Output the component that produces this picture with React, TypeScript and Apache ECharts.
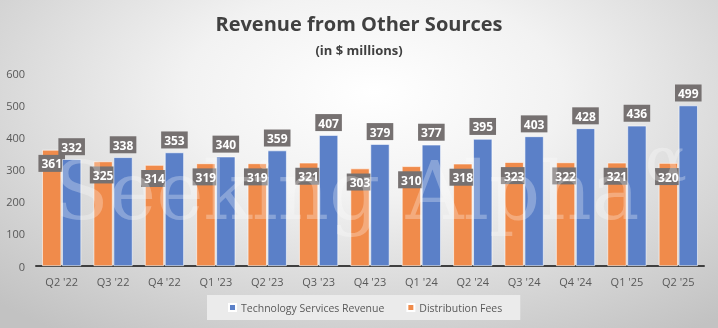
import React, { useEffect, useRef } from "react";
import * as echarts from "echarts";

const categories = ["Q2 '22", "Q3 '22", "Q4 '22", "Q1 '23", "Q2 '23", "Q3 '23", "Q4 '23", "Q1 '24", "Q2 '24", "Q3 '24", "Q4 '24", "Q1 '25", "Q2 '25"];
const distributionFees = [361, 325, 314, 319, 319, 321, 303, 310, 318, 323, 322, 321, 320];
const techServicesRevenue = [332, 338, 353, 340, 359, 407, 379, 377, 395, 403, 428, 436, 499];
const yTicks = [0, 100, 200, 300, 400, 500, 600];

export default function App() {
  const ref = useRef<HTMLDivElement>(null);
  useEffect(() => {
    document.body.style.margin = "0";
    const chart = echarts.init(ref.current!, null, { renderer: "svg" });
    const font = "'Open Sans', 'Noto Sans', sans-serif";
    const labelBox = {
      show: true,
      color: "#ffffff",
      fontFamily: font,
      fontWeight: "bold" as const,
      fontSize: 12,
      backgroundColor: "#767171",
      padding: [3, 3, 2, 3],
    };
    chart.setOption({
      animation: false,
      textStyle: { fontFamily: font },
      title: [
        {
          text: "Revenue from Other Sources",
          left: "center",
          top: 8,
          textStyle: { fontSize: 20, fontWeight: "bold", color: "#404040", fontFamily: font },
        },
        {
          text: "(in $ millions)",
          left: "center",
          top: 38,
          textStyle: { fontSize: 13, fontWeight: "bold", color: "#404040", fontFamily: font },
        },
      ],
      legend: {
        data: ["Technology Services Revenue", "Distribution Fees"],
        bottom: 8,
        left: 207,
        backgroundColor: "#ebebeb",
        padding: [7, 18, 7, 21],
        itemWidth: 7,
        itemHeight: 7,
        itemGap: 22,
        icon: "rect",
        textStyle: { fontSize: 10.5, color: "#595959", fontFamily: font },
      },
      grid: { left: 36, right: 14, top: 73, bottom: 62 },
      xAxis: {
        type: "category",
        data: categories,
        axisLine: { lineStyle: { color: "#404040", width: 2 } },
        axisTick: { show: false },
        axisLabel: { color: "#595959", fontSize: 11, margin: 10 },
      },
      yAxis: {
        type: "value",
        min: yTicks[0],
        max: yTicks[yTicks.length - 1],
        interval: 100,
        splitLine: { show: false },
        axisLine: { show: false },
        axisTick: { show: false },
        axisLabel: { color: "#595959", fontSize: 11, margin: 11 },
      },
      series: [
        {
          name: "Distribution Fees",
          type: "bar",
          data: distributionFees,
          barWidth: 19,
          barGap: "5%",
          itemStyle: { color: "#F08B4B", borderColor: "#ffffff", borderWidth: 0.6 },
          label: { ...labelBox, position: "insideTop", distance: 5 },
          z: 2,
        },
        {
          name: "Technology Services Revenue",
          type: "bar",
          data: techServicesRevenue,
          barWidth: 19,
          itemStyle: { color: "#5B80C8", borderColor: "#ffffff", borderWidth: 0.6 },
          label: { ...labelBox, position: "top", distance: 4 },
          z: 3,
        },
      ],
      graphic: [
        {
          type: "text",
          left: 54,
          top: 151,
          z: 100,
          silent: true,
          style: {
            text: "Seeking Alpha",
            font: "80px 'DejaVu Serif', serif",
            fill: "rgba(255,255,255,0.28)",
          },
        },
        {
          type: "text",
          left: 645,
          top: 128,
          z: 100,
          silent: true,
          style: {
            text: "α",
            font: "62px 'DejaVu Serif', serif",
            fill: "rgba(255,255,255,0.28)",
          },
        },
      ],
    });
    return () => chart.dispose();
  }, []);
  return (
    <div
      ref={ref}
      style={{
        position: "fixed",
        left: 0,
        top: 0,
        width: 718,
        height: 328,
        background: "radial-gradient(ellipse 75% 90% at 52% 28%, #ffffff 0%, #f2f2f2 35%, #d4d4d4 75%, #c2c2c2 100%)",
      }}
    />
  );
}
